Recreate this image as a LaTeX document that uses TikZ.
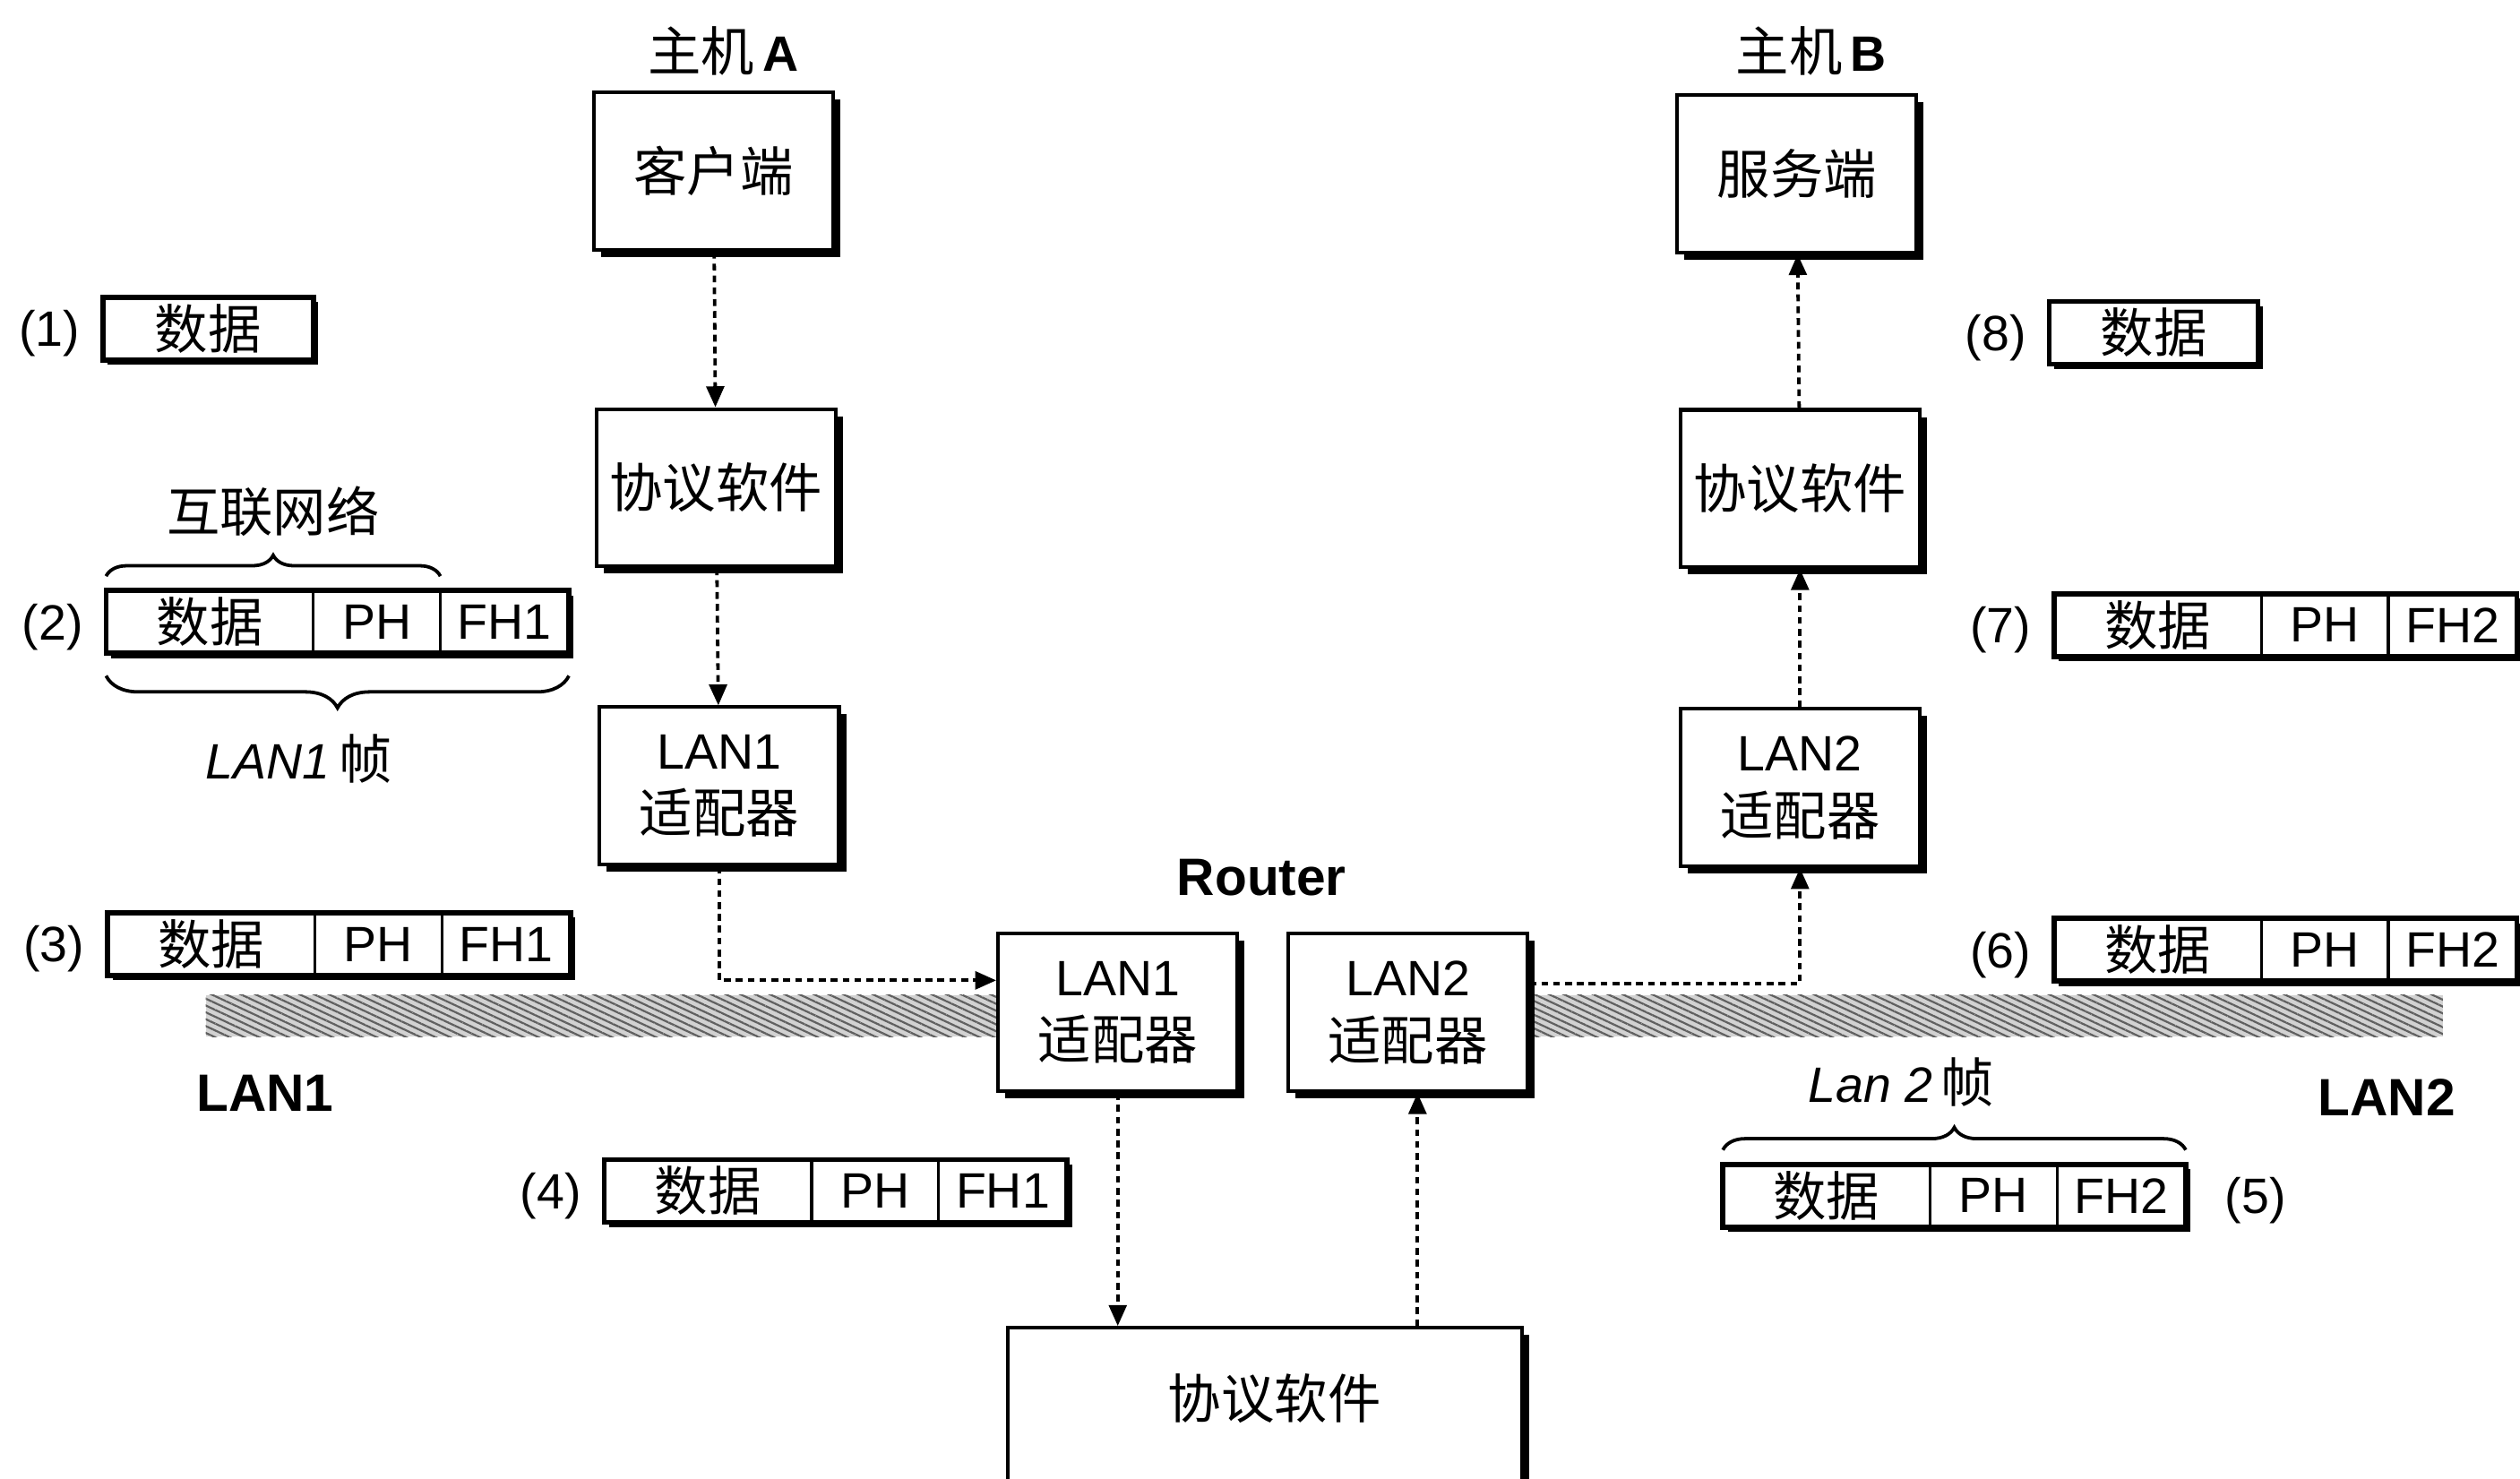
\documentclass[tikz,border=0pt]{standalone}
\usepackage{fontspec}
\setmainfont{Liberation Sans}
\newfontfamily\cjk[Scale=1.07]{Noto Sans CJK SC}
\newcommand\zh[1]{{\cjk #1}}
\usepackage{tikz}
\usetikzlibrary{arrows.meta,positioning,shadows,backgrounds,decorations.pathreplacing,patterns.meta}

\tikzset{
  box/.style={draw, line width=0.65pt, fill=white, inner sep=1pt, align=center,
    minimum width=1.49cm, minimum height=0.98cm, font=\fontsize{8.8}{11.4}\selectfont,
    drop shadow={shadow xshift=0.045cm, shadow yshift=-0.045cm, fill=black, opacity=1}},
  fld/.style={draw, line width=0.5pt, fill=white, inner sep=0pt, outer sep=0pt, minimum height=0.39cm},
  pkt/.style={line width=0.9pt},
  num/.style={yshift=-0.03cm},
  flow/.style={line width=0.6pt, dash pattern=on 1.2pt off 0.9pt, -{Triangle[length=1.3mm,width=1.1mm]}},
  lbl/.style={font=\bfseries\fontsize{9.3}{11}\selectfont},
  brc/.style={decorate, line width=0.6pt},
  lanband/.style={fill=gray!35},
  lanhatch/.style={pattern={Lines[angle=-25,distance=1.1pt,line width=0.35pt]}, pattern color=gray!75!black}
}

\begin{document}
\begin{tikzpicture}[font=\fontsize{8.8}{10.5}\selectfont]
  \useasboundingbox (0,0) rectangle (15.68,-9.20);
  % the two LANs
  \fill[lanband] (1.28,-6.19) rectangle (6.50,-6.45);
  \fill[lanhatch] (1.28,-6.19) rectangle (6.50,-6.45);
  \fill[lanband] (9.20,-6.19) rectangle (15.20,-6.45);
  \fill[lanhatch] (9.20,-6.19) rectangle (15.20,-6.45);
  \node[lbl] (lan1) at (1.65,-6.80) {LAN1};
  \node[lbl] (lan2) at (14.85,-6.83) {LAN2};

  % host A
  \node (hA) at (4.50,-0.32) {\zh{主机}\,\textbf{A}};
  \node[box] (cli) at (4.44,-1.065) {\zh{客户端}};
  \node[box] (proA) at (4.455,-3.035) {\zh{协议软件}};
  \node[box] (ladA) at (4.475,-4.89) {LAN1\\\zh{适配器}};

  % host B
  \node (hB) at (11.27,-0.32) {\zh{主机}\,\textbf{B}};
  \node[box] (srv) at (11.18,-1.08) {\zh{服务端}};
  \node[box] (proB) at (11.20,-3.04) {\zh{协议软件}};
  \node[box] (ladB) at (11.20,-4.90) {LAN2\\\zh{适配器}};

  % router
  \node[lbl] (rt) at (7.85,-5.46) {Router};
  \node[box] (ladR1) at (6.955,-6.30) {LAN1\\\zh{适配器}};
  \node[box] (ladR2) at (8.76,-6.30) {LAN2\\\zh{适配器}};
  \node[box, minimum width=3.20cm, minimum height=1.20cm, anchor=north] (proR) at (7.87,-8.25) {};
  \node (proRt) at (7.93,-8.70) {\zh{协议软件}};

  \draw[flow] (cli) -- (proA);
  \draw[flow] (proA) -- (ladA);
  \draw[flow] (ladA.south) |- ([yshift=0.2cm]ladR1.west);
  \draw[flow] (ladR1.south) -- (ladR1.south |- proR.north);
  \draw[flow] ([xshift=0.06cm]proR.north -| ladR2.south) -- ([xshift=0.06cm]ladR2.south);
  \draw[flow] ([yshift=0.18cm]ladR2.east) -| (ladB.south);
  \draw[flow] (ladB) -- (proB);
  \draw[flow] (proB) -- (srv);

  % packets
  \node[fld, minimum width=1.31cm, anchor=west] (p1-d) at (0.64,-2.045) {\zh{数据}};
  \node[fld, minimum width=1.30cm, anchor=west] (p8-d) at (12.75,-2.07) {\zh{数据}};
  \foreach \n/\x/\y/\h in {p2/0.66/-3.87/FH1, p3/0.67/-5.875/FH1, p4/3.76/-7.41/FH1,
                           p5/10.72/-7.44/FH2, p6/12.78/-5.91/FH2, p7/12.78/-3.89/FH2} {
    \node[fld, minimum width=1.29cm, anchor=west] (\n-d) at (\x,\y) {\zh{数据}};
    \node[fld, minimum width=0.79cm, right=0pt of \n-d] (\n-p) {PH};
    \node[fld, minimum width=0.80cm, right=0pt of \n-p] (\n-f) {\h};
  }
  \foreach \a/\b in {p1-d/p1-d, p8-d/p8-d, p2-d/p2-f, p3-d/p3-f, p4-d/p4-f,
                     p5-d/p5-f, p6-d/p6-f, p7-d/p7-f} {
    \begin{scope}[on background layer]
      \fill ([shift={(0.03,-0.03)}]\a.north west) rectangle ([shift={(0.03,-0.03)}]\b.south east);
    \end{scope}
    \draw[pkt] (\a.north west) rectangle (\b.south east);
  }
  \node[num, left=0.02cm of p1-d] (n1) {(1)};
  \node[num, left=0.02cm of p2-d] (n2) {(2)};
  \node[num, left=0.02cm of p3-d] (n3) {(3)};
  \node[num, left=0.02cm of p4-d] (n4) {(4)};
  \node[num, right=0.12cm of p5-f] (n5) {(5)};
  \node[num, left=0.02cm of p6-d] (n6) {(6)};
  \node[num, left=0.02cm of p7-d] (n7) {(7)};
  \node[num, left=0.02cm of p8-d] (n8) {(8)};

  % braces
  \draw[brc, decoration={brace, amplitude=0.13cm, raise=0.09cm}]
    (p2-d.north west) -- (p2-p.north east) node[midway, yshift=0.495cm] (inet) {\zh{互联网络}};
  \draw[brc, decoration={brace, amplitude=0.20cm, raise=0.14cm}]
    (p2-f.south east) -- (p2-d.south west) node[midway, xshift=-0.24cm, yshift=-0.655cm] (fr1) {\textit{LAN1}\,\zh{帧}};
  \draw[brc, decoration={brace, amplitude=0.14cm, raise=0.09cm}]
    (p5-d.north west) -- (p5-f.north east) node[midway, xshift=-0.33cm, yshift=0.51cm] (fr2) {\textit{Lan 2}\,\zh{帧}};
\end{tikzpicture}
\end{document}
